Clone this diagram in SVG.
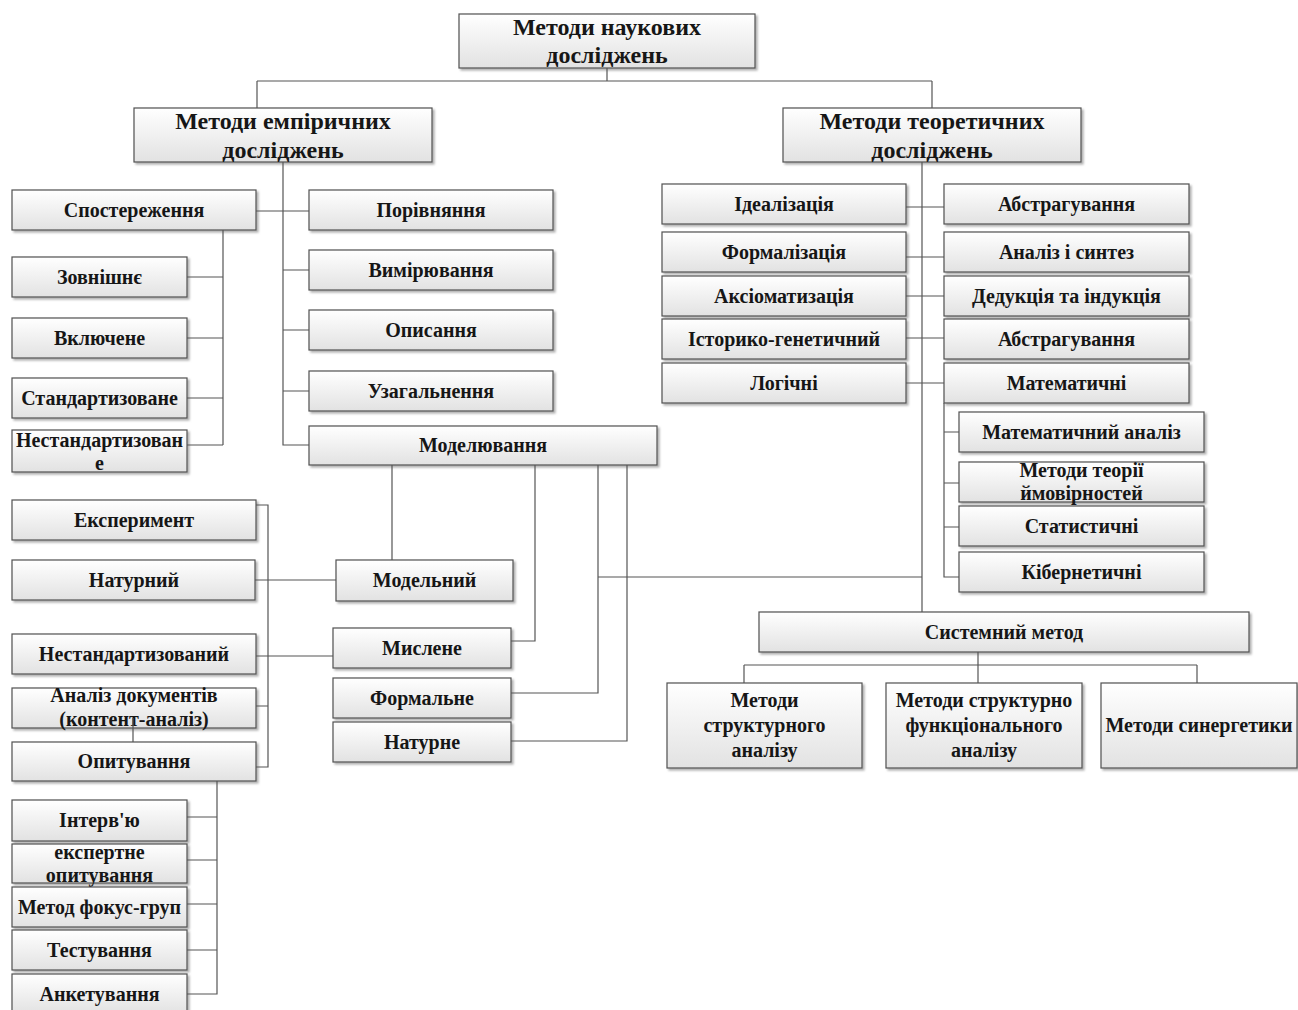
<svg xmlns="http://www.w3.org/2000/svg" width="1298" height="1010" viewBox="0 0 1298 1010">
<defs>
<linearGradient id="g" x1="0" y1="0" x2="0" y2="1">
<stop offset="0" stop-color="#ffffff"/>
<stop offset="1" stop-color="#e2e2e2"/>
</linearGradient>
<filter id="sh" x="-5%" y="-10%" width="115%" height="130%">
<feDropShadow dx="2" dy="2" stdDeviation="1" flood-color="#9a9a9a" flood-opacity="0.8"/>
</filter>
</defs>
<style>
.b{fill:url(#g);stroke:#505050;stroke-width:1.2;filter:url(#sh)}
text{font-family:"Liberation Serif","Times New Roman",serif;font-weight:bold;fill:#161616;text-anchor:middle;dominant-baseline:central}
.t{font-size:20px}
.h{font-size:24px}
.c{fill:none;stroke:#555;stroke-width:1.2}
</style>
<rect width="1298" height="1010" fill="#fff"/>

<g id="nodes">
<g id="n-top"><rect class="b" x="459" y="14" width="296" height="54"/><text class="h" x="607" y="27">Методи наукових</text><text class="h" x="607" y="55">досліджень</text></g>
<g id="n-emp"><rect class="b" x="134" y="108" width="298" height="54"/><text class="h" x="283" y="121">Методи емпіричних</text><text class="h" x="283" y="150">досліджень</text></g>
<g id="n-theor"><rect class="b" x="783" y="108" width="298" height="54"/><text class="h" x="932" y="121">Методи теоретичних</text><text class="h" x="932" y="150">досліджень</text></g>

<g id="n-spost"><rect class="b" x="12" y="190" width="244" height="40"/><text class="t" x="134" y="210">Спостереження</text></g>
<g id="n-porivn"><rect class="b" x="309" y="190" width="244" height="40"/><text class="t" x="431" y="210">Порівняння</text></g>
<g id="n-vymir"><rect class="b" x="309" y="250" width="244" height="40"/><text class="t" x="431" y="270">Вимірювання</text></g>
<g id="n-opys"><rect class="b" x="309" y="310" width="244" height="40"/><text class="t" x="431" y="330">Описання</text></g>
<g id="n-uzag"><rect class="b" x="309" y="371" width="244" height="40"/><text class="t" x="431" y="391">Узагальнення</text></g>
<g id="n-model"><rect class="b" x="309" y="426" width="348" height="39"/><text class="t" x="483" y="445">Моделювання</text></g>

<g id="n-zovn"><rect class="b" x="12" y="257" width="175" height="40"/><text class="t" x="99.5" y="277">Зовнішнє</text></g>
<g id="n-vkl"><rect class="b" x="12" y="318" width="175" height="40"/><text class="t" x="99.5" y="338">Включене</text></g>
<g id="n-stand"><rect class="b" x="12" y="378" width="175" height="40"/><text class="t" x="99.5" y="398">Стандартизоване</text></g>
<g id="n-nestand"><rect class="b" x="12" y="430" width="175" height="42"/><text class="t" x="99.5" y="440">Нестандартизован</text><text class="t" x="99.5" y="463">е</text></g>

<g id="n-eksper"><rect class="b" x="12" y="500" width="244" height="40"/><text class="t" x="134" y="520">Експеримент</text></g>
<g id="n-natur"><rect class="b" x="12" y="560" width="243" height="40"/><text class="t" x="134" y="580">Натурний</text></g>
<g id="n-nestand2"><rect class="b" x="12" y="634" width="244" height="40"/><text class="t" x="134" y="654">Нестандартизований</text></g>
<g id="n-analiz"><rect class="b" x="12" y="688" width="244" height="40"/><text class="t" x="134" y="695">Аналіз документів</text><text class="t" x="134" y="719">(контент-аналіз)</text></g>
<g id="n-opyt"><rect class="b" x="12" y="742" width="244" height="39"/><text class="t" x="134" y="761">Опитування</text></g>

<g id="n-modeln"><rect class="b" x="336" y="560" width="177" height="41"/><text class="t" x="424.5" y="580">Модельний</text></g>
<g id="n-myslene"><rect class="b" x="333" y="628" width="178" height="40"/><text class="t" x="422" y="648">Мислене</text></g>
<g id="n-formal"><rect class="b" x="333" y="678" width="178" height="40"/><text class="t" x="422" y="698">Формальне</text></g>
<g id="n-naturne"><rect class="b" x="333" y="722" width="178" height="40"/><text class="t" x="422" y="742">Натурне</text></g>

<g id="n-interv"><rect class="b" x="12" y="800" width="175" height="41"/><text class="t" x="99.5" y="820">Інтерв'ю</text></g>
<g id="n-ekspert"><rect class="b" x="12" y="844" width="175" height="39"/><text class="t" x="99.5" y="852">експертне</text><text class="t" x="99.5" y="875">опитування</text></g>
<g id="n-fokus"><rect class="b" x="12" y="887" width="175" height="40"/><text class="t" x="99.5" y="907">Метод фокус-груп</text></g>
<g id="n-test"><rect class="b" x="12" y="930" width="175" height="40"/><text class="t" x="99.5" y="950">Тестування</text></g>
<g id="n-anket"><rect class="b" x="12" y="974" width="175" height="40"/><text class="t" x="99.5" y="994">Анкетування</text></g>

<g id="n-ideal"><rect class="b" x="662" y="184" width="244" height="40"/><text class="t" x="784" y="204">Ідеалізація</text></g>
<g id="n-formaliz"><rect class="b" x="662" y="232" width="244" height="40"/><text class="t" x="784" y="252">Формалізація</text></g>
<g id="n-aksiom"><rect class="b" x="662" y="276" width="244" height="40"/><text class="t" x="784" y="296">Аксіоматизація</text></g>
<g id="n-istor"><rect class="b" x="662" y="319" width="244" height="40"/><text class="t" x="784" y="339">Історико-генетичний</text></g>
<g id="n-logic"><rect class="b" x="662" y="363" width="244" height="40"/><text class="t" x="784" y="383">Логічні</text></g>

<g id="n-abstr1"><rect class="b" x="944" y="184" width="245" height="40"/><text class="t" x="1066.5" y="204">Абстрагування</text></g>
<g id="n-analsynt"><rect class="b" x="944" y="232" width="245" height="40"/><text class="t" x="1066.5" y="252">Аналіз і синтез</text></g>
<g id="n-deduk"><rect class="b" x="944" y="276" width="245" height="40"/><text class="t" x="1066.5" y="296">Дедукція та індукція</text></g>
<g id="n-abstr2"><rect class="b" x="944" y="319" width="245" height="40"/><text class="t" x="1066.5" y="339">Абстрагування</text></g>
<g id="n-matem"><rect class="b" x="944" y="363" width="245" height="40"/><text class="t" x="1066.5" y="383">Математичні</text></g>

<g id="n-matan"><rect class="b" x="959" y="412" width="245" height="40"/><text class="t" x="1081.5" y="432">Математичний аналіз</text></g>
<g id="n-imov"><rect class="b" x="959" y="462" width="245" height="40"/><text class="t" x="1081.5" y="470">Методи теорії</text><text class="t" x="1081.5" y="493">ймовірностей</text></g>
<g id="n-stat"><rect class="b" x="959" y="506" width="245" height="40"/><text class="t" x="1081.5" y="526">Статистичні</text></g>
<g id="n-kiber"><rect class="b" x="959" y="552" width="245" height="40"/><text class="t" x="1081.5" y="572">Кібернетичні</text></g>

<g id="n-system"><rect class="b" x="759" y="612" width="490" height="40"/><text class="t" x="1004" y="632">Системний метод</text></g>
<g id="n-struct"><rect class="b" x="667" y="683" width="195" height="85"/><text class="t" x="764.5" y="700">Методи</text><text class="t" x="764.5" y="725">структурного</text><text class="t" x="764.5" y="750">аналізу</text></g>
<g id="n-strfunc"><rect class="b" x="886" y="683" width="196" height="85"/><text class="t" x="984" y="700">Методи структурно</text><text class="t" x="984" y="725">функціонального</text><text class="t" x="984" y="750">аналізу</text></g>
<g id="n-synerg"><rect class="b" x="1101" y="683" width="196" height="85"/><text class="t" x="1199" y="725">Методи синергетики</text></g>
</g>

<g id="connectors" class="c">
<path class="c" d="M607,68 V81 M257,81 H932 M257,81 V108 M932,81 V108"/>
<path class="c" d="M283,162 V445 H309 M256,211 H309 M283,270 H309 M283,330 H309 M283,391 H309"/>
<path class="c" d="M223,230 V445 M187,277 H223 M187,338 H223 M187,398 H223 M187,445 H223"/>
<path class="c" d="M392,465 V560 M535,465 V641 H511 M598,465 V693 H511 M627,465 V741 H511 M598,577 H922"/>
<path class="c" d="M256,505 H268 V767 H256 M255,580 H336 M256,656 H333 M256,706 H268 M133,718 V742"/>
<path class="c" d="M217,781 V994 H187 M187,817 H217 M187,860 H217 M187,904 H217 M187,950 H217"/>
<path class="c" d="M922,162 V612 M906,207 H944 M906,257 H944 M906,296 H944 M906,338 H944 M906,383 H944"/>
<path class="c" d="M944,403 V577 H959 M944,432 H959 M944,483 H959 M944,527 H959"/>
<path class="c" d="M978,652 V683 M744,665 H1197 M744,665 V683 M1197,665 V683"/>
</g>
</svg>
